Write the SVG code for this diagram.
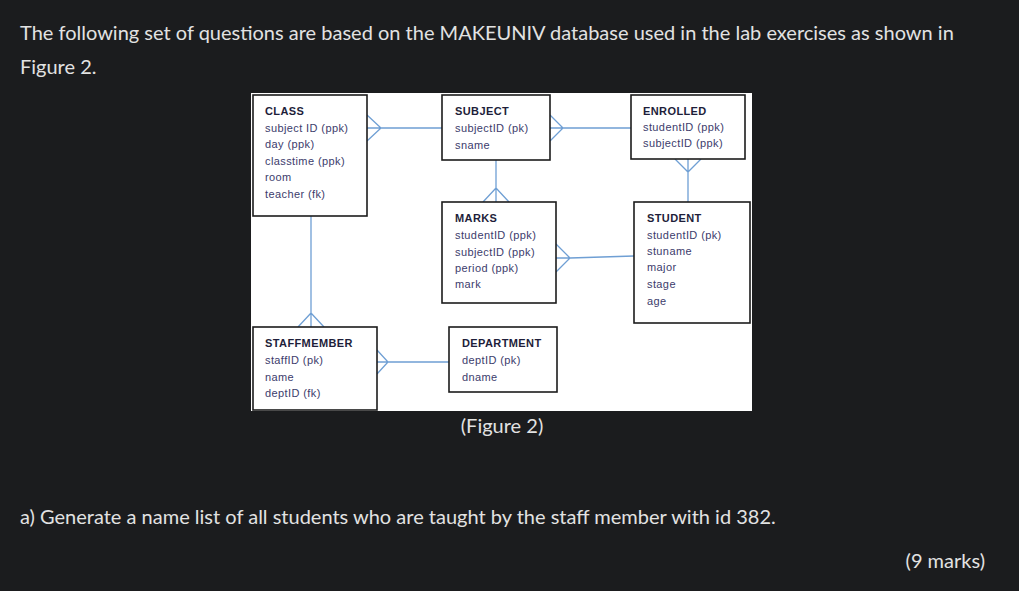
<svg xmlns="http://www.w3.org/2000/svg" width="1019" height="591" viewBox="0 0 1019 591">
<style>
.page{font-family:Lato,"Liberation Sans",sans-serif;font-size:20px;fill:#e2e2e2}
.box{fill:#ffffff;stroke:#1c1c1c;stroke-width:1.6}
.t{font-family:"Liberation Sans",Arial,sans-serif;font-size:11px;font-weight:bold;fill:#1e1e3a;letter-spacing:0.4px}
.a{font-family:"Liberation Sans",Arial,sans-serif;font-size:11px;fill:#3c3c6c;letter-spacing:0.4px}
.c{fill:none;stroke:#6f9fd4;stroke-width:1.3}
</style>
<rect x="0" y="0" width="1019" height="591" fill="#1b1c1e"/>
<text class="page" x="20" y="40">The following set of questions are based on the MAKEUNIV database used in the lab exercises as shown in</text>
<text class="page" x="20" y="74">Figure 2.</text>
<rect x="251" y="93" width="501" height="318" fill="#ffffff"/>
<g id="connectors">
<path class="c" d="M367,128 L442,128 M367,115 L381,128 L367,141"/>
<path class="c" d="M550,128 L631,128 M550,115 L563,128 L550,141"/>
<path class="c" d="M496,160 L496,202 M483,202 L496,188 L509,202"/>
<path class="c" d="M688,159 L688,202 M675,159 L688,172 L701,159"/>
<path class="c" d="M556,258 L570,258 L634,256 M556,244 L570,258 L556,272"/>
<path class="c" d="M311,216 L311,327 M298,327 L311,313 L324,327"/>
<path class="c" d="M377,362 L449,362 M377,350 L388,362 L377,374"/>
</g>
<g id="class">
<rect class="box" x="253" y="95" width="114" height="121"/>
<text class="t" x="265" y="115">CLASS</text>
<text class="a" x="265" y="131.5">subject ID (ppk)</text>
<text class="a" x="265" y="148">day (ppk)</text>
<text class="a" x="265" y="164.5">classtime (ppk)</text>
<text class="a" x="265" y="181">room</text>
<text class="a" x="265" y="197.5">teacher (fk)</text>
</g>
<g id="subject">
<rect class="box" x="442" y="95" width="108" height="65"/>
<text class="t" x="455" y="115">SUBJECT</text>
<text class="a" x="455" y="132">subjectID (pk)</text>
<text class="a" x="455" y="149">sname</text>
</g>
<g id="enrolled">
<rect class="box" x="631" y="95" width="114" height="64"/>
<text class="t" x="643" y="115">ENROLLED</text>
<text class="a" x="643" y="131">studentID (ppk)</text>
<text class="a" x="643" y="147">subjectID (ppk)</text>
</g>
<g id="marks">
<rect class="box" x="442" y="202" width="114" height="101"/>
<text class="t" x="455" y="222">MARKS</text>
<text class="a" x="455" y="239">studentID (ppk)</text>
<text class="a" x="455" y="256">subjectID (ppk)</text>
<text class="a" x="455" y="272">period (ppk)</text>
<text class="a" x="455" y="288">mark</text>
</g>
<g id="student">
<rect class="box" x="634" y="202" width="116" height="121"/>
<text class="t" x="647" y="222">STUDENT</text>
<text class="a" x="647" y="239">studentID (pk)</text>
<text class="a" x="647" y="255">stuname</text>
<text class="a" x="647" y="271">major</text>
<text class="a" x="647" y="288">stage</text>
<text class="a" x="647" y="305">age</text>
</g>
<g id="staffmember">
<rect class="box" x="253" y="327" width="124" height="83"/>
<text class="t" x="265" y="347">STAFFMEMBER</text>
<text class="a" x="265" y="364">staffID (pk)</text>
<text class="a" x="265" y="381">name</text>
<text class="a" x="265" y="397">deptID (fk)</text>
</g>
<g id="department">
<rect class="box" x="449" y="327" width="108" height="65"/>
<text class="t" x="462" y="347">DEPARTMENT</text>
<text class="a" x="462" y="364">deptID (pk)</text>
<text class="a" x="462" y="381">dname</text>
</g>
<text class="page" x="502" y="433" text-anchor="middle">(Figure 2)</text>
<text class="page" x="20" y="524">a) Generate a name list of all students who are taught by the staff member with id 382.</text>
<text class="page" x="985" y="568" text-anchor="end">(9 marks)</text>
</svg>
